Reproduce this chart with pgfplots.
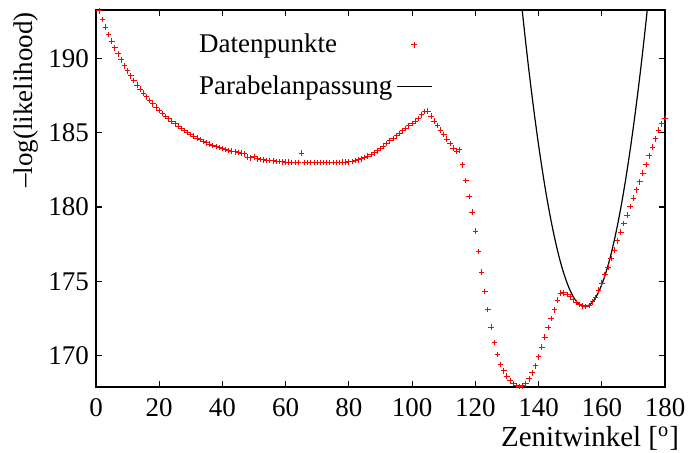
\documentclass[border=0pt]{standalone}
\usepackage{fontspec}
\setmainfont{Liberation Serif}
\usepackage{pgfplots}
\pgfplotsset{compat=1.18}

\pgfplotstableread{
x y
1 193.2
2 192.6
3 192.1
4 191.6
5 191.15
6 190.7
7 190.3
8 189.9
9 189.5
10 189.15
11 188.82
12 188.5
13 188.2
14 187.93
15 187.66
16 187.4
17 187.17
18 186.94
19 186.72
20 186.5
21 186.3
22 186.1
23 185.93
24 185.76
25 185.6
26 185.44
27 185.29
28 185.15
29 185.01
30 184.88
31 184.76
32 184.64
33 184.53
34 184.42
35 184.32
36 184.23
37 184.15
38 184.07
39 184.0
40 183.93
41 183.87
42 183.81
43 183.76
44 183.71
45 183.66
46 183.62
47 183.58
48 183.35
49 183.3
50 183.38
51 183.25
52 183.2
53 183.17
54 183.14
55 183.12
56 183.1
57 183.07
58 183.05
59 183.03
60 183.02
61 183.01
62 183.0
63 183.0
64 183.0
65 183.62
66 183.0
67 183.0
68 183.0
69 183.0
70 183.0
71 183.0
72 183.0
73 183.0
74 183.0
75 183.0
76 183.0
77 183.0
78 183.01
79 183.02
80 183.03
81 183.07
82 183.12
83 183.18
84 183.25
85 183.33
86 183.42
87 183.53
88 183.65
89 183.78
90 183.93
91 184.1
92 184.27
93 184.45
94 184.62
95 184.78
96 184.95
97 185.12
98 185.28
99 185.45
100 185.62
101 185.78
102 185.96
103 186.2
104 186.43
105 186.45
106 186.12
107 185.78
108 185.47
109 185.17
110 184.87
111 184.56
112 184.27
113 183.97
114 183.75
115 183.85
116 182.84
117 181.79
118 180.72
119 179.65
120 178.38
121 177.0
122 175.62
123 174.33
124 173.1
125 171.93
126 170.88
127 170.08
128 169.42
129 168.98
130 168.62
131 168.35
132 168.14
133 167.99
134 167.94
135 167.97
136 168.12
137 168.45
138 168.86
139 169.32
140 169.92
141 170.58
142 171.25
143 171.9
144 172.5
145 173.09
146 173.74
147 174.22
148 174.24
149 174.12
150 173.96
151 173.75
152 173.58
153 173.45
154 173.36
155 173.3
156 173.38
157 173.62
158 173.93
159 174.42
160 174.88
161 175.44
162 175.95
163 176.53
164 177.1
165 177.72
166 178.32
167 178.9
168 179.45
169 180.03
170 180.6
171 181.15
172 181.7
173 182.28
174 182.86
175 183.45
176 184.03
177 184.59
178 185.18
179 185.6
180 185.96
}\datapts

\pgfplotstableread{
x y
134.82 193.25
135.6 191.71
136.6 189.82
137.6 188.04
138.6 186.36
139.6 184.78
140.6 183.30
141.6 181.92
142.6 180.64
143.6 179.47
144.6 178.40
145.6 177.43
146.6 176.56
147.6 175.80
148.6 175.14
149.6 174.58
150.6 174.12
151.6 173.76
152.6 173.50
153.6 173.35
154.6 173.30
155.6 173.35
156.6 173.50
157.6 173.76
158.6 174.12
159.6 174.58
160.6 175.14
161.6 175.80
162.6 176.56
163.6 177.43
164.6 178.40
165.6 179.47
166.6 180.64
167.6 181.92
168.6 183.30
169.6 184.78
170.6 186.36
171.6 188.04
172.6 189.82
173.6 191.71
174.38 193.25
}\parabel

\begin{document}
\begin{tikzpicture}
\begin{axis}[
    name=ax,
    scale only axis,
    width=284.5pt,
    height=188.5pt,
    xmin=0, xmax=180,
    ymin=167.9, ymax=193.25,
    xtick={0,20,...,180},
    ytick={170,175,...,190},
    tick pos=both,
    tick align=inside,
    major tick length=3.2pt,
    axis line style={line width=0.75pt},
    every tick/.style={black, line width=0.6pt},
    /pgf/number format/assume math mode=true,
    tick label style={font=\fontsize{13.5}{16}\selectfont},
    xticklabel style={yshift=-2pt},
    clip=false,
    legend style={draw=none, fill=none, font=\fontsize{13.5}{16}\selectfont,
        at={(axis cs:29.3,192.2)}, anchor=north west, row sep=6pt,
        cells={anchor=west}},
    legend plot pos=right,
]
\addplot[only marks, mark=+, mark size=1.4pt, red, line width=0.5pt] table {\datapts};
\addlegendentry{Datenpunkte}
\addplot[black, line width=0.6pt, smooth] table {\parabel};
\addlegendentry{Parabelanpassung}
\end{axis}
\node[rotate=90, anchor=base east, font=\fontsize{13.5}{16}\selectfont]
    at ([shift={(-31.5pt,2.5pt)}]ax.north west) {–log(likelihood)};
\node[anchor=base east, font=\fontsize{14.5}{17}\selectfont]
    at ([shift={(10.5pt,-30pt)}]ax.south east) {Zenitwinkel [\textsuperscript{o}]};
\pgfresetboundingbox
\path[use as bounding box] ([shift={(-48pt,-33pt)}]ax.south west) rectangle ([shift={(11.5pt,5pt)}]ax.north east);
\end{tikzpicture}
\end{document}
